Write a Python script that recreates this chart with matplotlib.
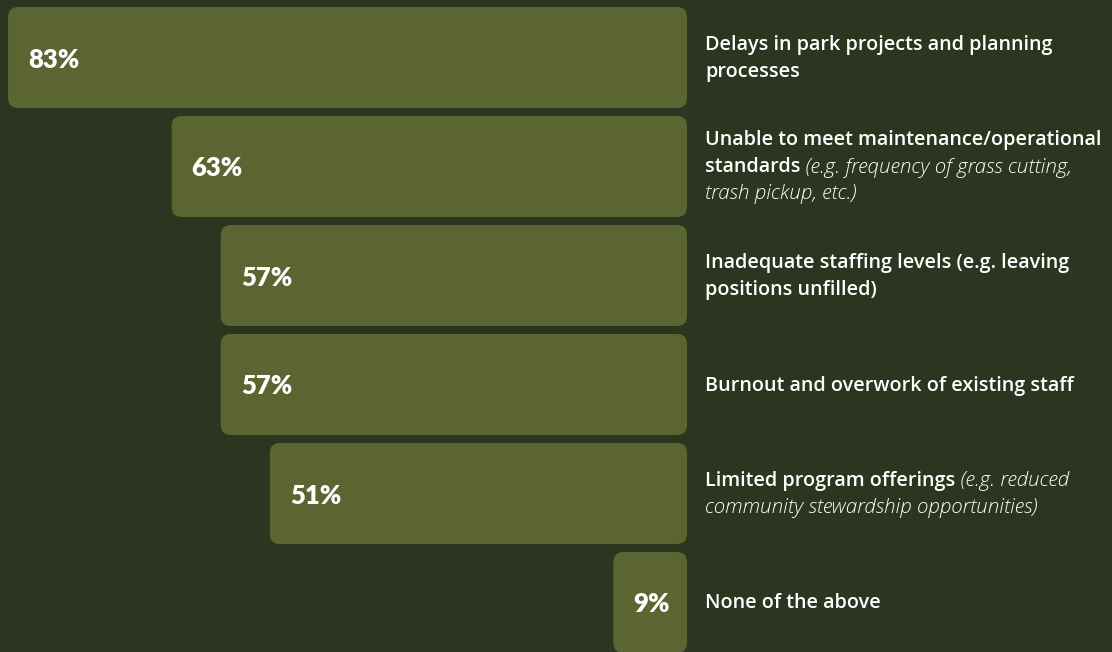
import matplotlib.pyplot as plt
from matplotlib.patches import FancyBboxPatch

# data
categories = [
    "Delays in park projects and planning processes",
    "Unable to meet maintenance/operational standards",
    "Inadequate staffing levels",
    "Burnout and overwork of existing staff",
    "Limited program offerings",
    "None of the above",
]
values = [83, 63, 57, 57, 51, 9]

# label lines, each line is a list of (text, style) segments
label_lines = [
    [[("Delays in park projects and planning", "b")], [("processes", "b")]],
    [[("Unable to meet maintenance/operational", "b")],
     [("standards", "b"), (" (e.g. frequency of grass cutting,", "i")],
     [("trash pickup, etc.)", "i")]],
    [[("Inadequate staffing levels (e.g. leaving", "b")], [("positions unfilled)", "b")]],
    [[("Burnout and overwork of existing staff", "b")]],
    [[("Limited program offerings", "b"), (" (e.g. reduced", "i")],
     [("community stewardship opportunities)", "i")]],
    [[("None of the above", "b")]],
]

BG = "#2b351f"
BAR = "#5a6532"
PCT_FONT = ["Lato", "DejaVu Sans"]
LBL_FONT = ["Open Sans", "DejaVu Sans"]

fig = plt.figure(figsize=(11.12, 6.52), dpi=100, facecolor=BG)
ax = fig.add_axes([0, 0, 1, 1])
ax.set_facecolor(BG)

px_per_unit = 8.18
row_px = 109
ax.set_xlim(-687 / px_per_unit, (1112 - 687) / px_per_unit)
ax.set_ylim((652 - 57.5) / row_px, -57.5 / row_px)
ax.axis("off")

bar_h = 101 / row_px
radius = 10 / px_per_unit
aspect = px_per_unit / row_px

for i, v in enumerate(values):
    box = FancyBboxPatch((-v, i - bar_h / 2), v, bar_h,
                         boxstyle=f"round,pad=0,rounding_size={radius}",
                         mutation_aspect=aspect, facecolor=BAR, edgecolor="none")
    ax.add_patch(box)
    ax.annotate(f"{v}%", xy=(-v, i), xytext=(20, -2), textcoords="offset pixels",
                ha="left", va="center", color="white", fontsize=18.5,
                fontweight="heavy", family=PCT_FONT)

renderer = fig.canvas.get_renderer()
line_px = 27
for i, lines in enumerate(label_lines):
    n = len(lines)
    for k, segs in enumerate(lines):
        dy = -(k - (n - 1) / 2) * line_px - 1
        dx = 18
        for txt, style in segs:
            if style == "b":
                kw = dict(fontweight="semibold", fontstyle="normal", fontsize=14.2)
            else:
                kw = dict(fontweight="light", fontstyle="italic", fontsize=14.8)
            t = ax.annotate(txt, xy=(0, i), xytext=(dx, dy), textcoords="offset pixels",
                            ha="left", va="center", color="white",
                            family=LBL_FONT, **kw)
            dx += t.get_window_extent(renderer).width

fig.savefig("out.png", dpi=100, facecolor=BG)
